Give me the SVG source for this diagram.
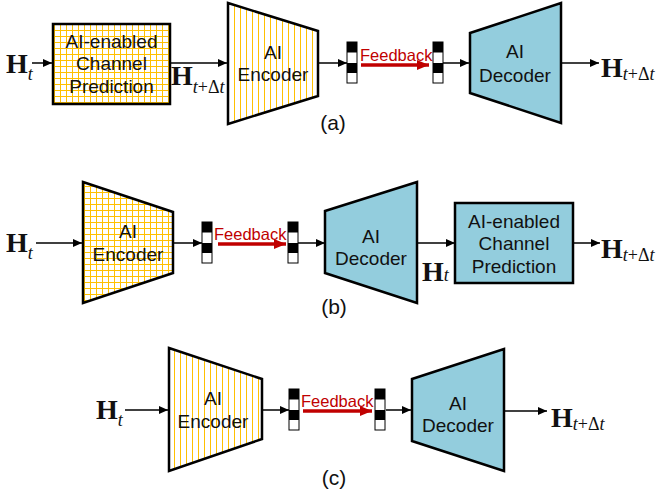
<svg xmlns="http://www.w3.org/2000/svg" width="660" height="495" viewBox="0 0 660 495">
<defs>
  <pattern id="grid" patternUnits="userSpaceOnUse" width="6" height="6">
    <rect width="6" height="6" fill="#fff"/>
    <path d="M0 0.5 H6 M0.5 0 V6" stroke="#FFC000" stroke-width="1"/>
  </pattern>
  <pattern id="vlines" patternUnits="userSpaceOnUse" width="6" height="6">
    <rect width="6" height="6" fill="#fff"/>
    <path d="M0.5 0 V6" stroke="#FFC000" stroke-width="1"/>
  </pattern>
  <marker id="ah" markerUnits="userSpaceOnUse" markerWidth="9" markerHeight="8" refX="9" refY="4" orient="auto">
    <path d="M0 0 L9 4 L0 8 z" fill="#000"/>
  </marker>
  <marker id="rah" markerUnits="userSpaceOnUse" markerWidth="12" markerHeight="10" refX="12" refY="5" orient="auto">
    <path d="M0 0 L12 5 L0 10 z" fill="#C00000"/>
  </marker>
  <g id="bar">
    <rect x="0" y="0" width="10" height="41" fill="#fff" stroke="#000" stroke-width="1"/>
    <rect x="0" y="0" width="10" height="10.5" fill="#000"/>
    <rect x="0" y="21" width="10" height="10" fill="#000"/>
  </g>
</defs>
<style>
  .shape { stroke: #000; stroke-width: 2.5; stroke-linejoin: miter; }
  .blue { fill: #93CDDD; }
  .lbl { font-family: "Liberation Sans", Arial, sans-serif; font-size: 19px; fill: #111; text-anchor: middle; }
  .fb { font-family: "Liberation Sans", Arial, sans-serif; font-size: 16.5px; fill: #C00000; }
  .cap { font-family: "Liberation Sans", Arial, sans-serif; font-size: 21px; fill: #111; text-anchor: middle; }
  .H { font-family: "Liberation Serif", "Times New Roman", serif; font-weight: bold; font-size: 28px; fill: #111; }
  .sub { font-family: "Liberation Serif", "Times New Roman", serif; font-weight: normal; font-size: 18px; }
  .it { font-style: italic; }
  .conn { stroke: #000; stroke-width: 1.5; fill: none; }
  .rconn { stroke: #C00000; stroke-width: 3.5; fill: none; }
</style>

<!-- Connectors -->
<g id="connectors">
  <!-- (a) -->
  <line class="conn" x1="32" y1="63" x2="52" y2="63" marker-end="url(#ah)"/>
  <line class="conn" x1="170" y1="63" x2="227" y2="63" marker-end="url(#ah)"/>
  <line class="conn" x1="318" y1="63" x2="347" y2="63" marker-end="url(#ah)"/>
  <line class="rconn" x1="361" y1="65" x2="429" y2="65" marker-end="url(#rah)"/>
  <line class="conn" x1="443" y1="63" x2="469" y2="63" marker-end="url(#ah)"/>
  <line class="conn" x1="561" y1="63" x2="599" y2="63" marker-end="url(#ah)"/>
  <!-- (b) -->
  <line class="conn" x1="36" y1="243" x2="82" y2="243" marker-end="url(#ah)"/>
  <line class="conn" x1="173" y1="243" x2="202" y2="243" marker-end="url(#ah)"/>
  <line class="rconn" x1="218" y1="244" x2="286" y2="244" marker-end="url(#rah)"/>
  <line class="conn" x1="298" y1="243" x2="325" y2="243" marker-end="url(#ah)"/>
  <line class="conn" x1="417" y1="243" x2="455" y2="243" marker-end="url(#ah)"/>
  <line class="conn" x1="573" y1="243" x2="600" y2="243" marker-end="url(#ah)"/>
  <!-- (c) -->
  <line class="conn" x1="125" y1="410" x2="168" y2="410" marker-end="url(#ah)"/>
  <line class="conn" x1="262" y1="410" x2="289" y2="410" marker-end="url(#ah)"/>
  <line class="rconn" x1="303" y1="411" x2="372" y2="411" marker-end="url(#rah)"/>
  <line class="conn" x1="386" y1="410" x2="411" y2="410" marker-end="url(#ah)"/>
  <line class="conn" x1="504" y1="411" x2="547" y2="411" marker-end="url(#ah)"/>
</g>

<!-- ===== Panel (a) ===== -->
<g id="a-Hin"><text class="H" x="6" y="73">H<tspan class="sub it" dy="7">t</tspan></text></g>
<g id="a-pred">
  <rect class="shape" x="53" y="24" width="117" height="80" fill="url(#grid)"/>
  <text class="lbl" x="111.5" y="48">AI-enabled</text>
  <text class="lbl" x="111.5" y="70">Channel</text>
  <text class="lbl" x="111.5" y="93">Prediction</text>
</g>
<g id="a-Hmid"><text class="H" x="171" y="85">H<tspan class="sub" dy="8"><tspan class="it">t</tspan>+Δ<tspan class="it">t</tspan></tspan></text></g>
<g id="a-enc">
  <polygon class="shape" points="228,3 318,31 318,96 228,124" fill="url(#vlines)"/>
  <text class="lbl" x="273" y="59">AI</text>
  <text class="lbl" x="273" y="81">Encoder</text>
</g>
<g id="a-bar1"><use href="#bar" x="347" y="42"/></g>
<g id="a-fb"><text class="fb" x="360" y="61">Feedback</text></g>
<g id="a-bar2"><use href="#bar" x="433" y="42"/></g>
<g id="a-dec">
  <polygon class="shape blue" points="470,33 561,3 561,123 470,93"/>
  <text class="lbl" x="515" y="58">AI</text>
  <text class="lbl" x="515" y="82">Decoder</text>
</g>
<g id="a-Hout"><text class="H" x="601" y="77">H<tspan class="sub" dy="3"><tspan class="it">t</tspan>+Δ<tspan class="it">t</tspan></tspan></text></g>
<g id="a-cap"><text class="cap" x="333" y="130">(a)</text></g>

<!-- ===== Panel (b) ===== -->
<g id="b-Hin"><text class="H" x="6" y="252">H<tspan class="sub it" dy="7">t</tspan></text></g>
<g id="b-enc">
  <polygon class="shape" points="83,182 173,212 173,273 83,303" fill="url(#grid)"/>
  <text class="lbl" x="128" y="238">AI</text>
  <text class="lbl" x="128" y="261">Encoder</text>
</g>
<g id="b-bar1"><use href="#bar" x="202" y="222"/></g>
<g id="b-fb"><text class="fb" x="214" y="240">Feedback</text></g>
<g id="b-bar2"><use href="#bar" x="288" y="222"/></g>
<g id="b-dec">
  <polygon class="shape blue" points="325,211 417,182 417,303 325,273"/>
  <text class="lbl" x="371" y="243">AI</text>
  <text class="lbl" x="371" y="265">Decoder</text>
</g>
<g id="b-Hmid"><text class="H" x="422" y="281">H<tspan class="sub it" dy="0">t</tspan></text></g>
<g id="b-pred">
  <rect class="shape blue" x="455" y="203" width="118" height="80"/>
  <text class="lbl" x="514" y="228">AI-enabled</text>
  <text class="lbl" x="514" y="250">Channel</text>
  <text class="lbl" x="514" y="273">Prediction</text>
</g>
<g id="b-Hout"><text class="H" x="601" y="258">H<tspan class="sub" dy="3"><tspan class="it">t</tspan>+Δ<tspan class="it">t</tspan></tspan></text></g>
<g id="b-cap"><text class="cap" x="334" y="314">(b)</text></g>

<!-- ===== Panel (c) ===== -->
<g id="c-Hin"><text class="H" x="96" y="419">H<tspan class="sub it" dy="7">t</tspan></text></g>
<g id="c-enc">
  <polygon class="shape" points="169,348 262,379 262,439 169,471" fill="url(#vlines)"/>
  <text class="lbl" x="213" y="405">AI</text>
  <text class="lbl" x="213" y="428">Encoder</text>
</g>
<g id="c-bar1"><use href="#bar" x="289" y="389"/></g>
<g id="c-fb"><text class="fb" x="301" y="407">Feedback</text></g>
<g id="c-bar2"><use href="#bar" x="375" y="389"/></g>
<g id="c-dec">
  <polygon class="shape blue" points="412,379 504,349 504,471 412,441"/>
  <text class="lbl" x="458" y="410">AI</text>
  <text class="lbl" x="458" y="432">Decoder</text>
</g>
<g id="c-Hout"><text class="H" x="551" y="427">H<tspan class="sub" dy="3"><tspan class="it">t</tspan>+Δ<tspan class="it">t</tspan></tspan></text></g>
<g id="c-cap"><text class="cap" x="334" y="485">(c)</text></g>
</svg>
